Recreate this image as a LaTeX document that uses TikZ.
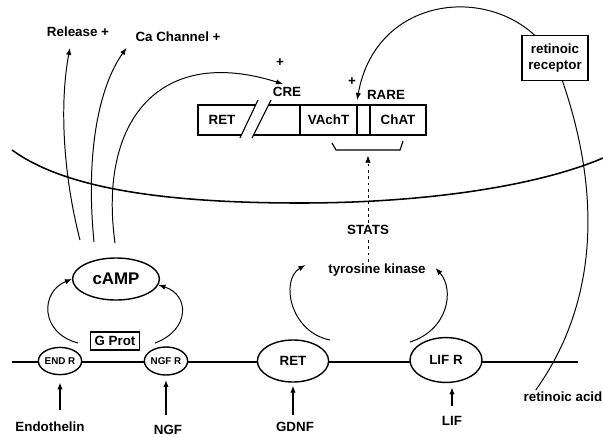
\documentclass[tikz,border=0pt]{standalone}
\usepackage{fontspec}
\setmainfont{Liberation Sans}
\usetikzlibrary{
    arrows.meta,             % For modern arrow tips
    shapes.geometric,        % For the ellipse receptors
    calc                     % For offsets from anchors
}

\begin{document}
\begin{tikzpicture}[
    x=0.025cm, y=-0.025cm, % One unit is one pixel of the layout, y runs downwards
    font=\fontsize{9.5}{12}\selectfont\bfseries,
    line width=0.8pt,
    inner sep=1pt,
    receptor_style/.style={draw, ellipse, fill=white, line width=1pt, inner sep=0pt},
    small_font/.style={font=\fontsize{7}{8}\selectfont\bfseries},
    box_style/.style={draw, rectangle, fill=white, line width=0.8pt},
    arc_style/.style={-{Latex[length=5pt,width=3.8pt]}, line width=0.7pt},
    ligand_style/.style={-{Latex[length=5pt,width=3.8pt]}, line width=1pt},
    dash_style/.style={line width=0.5pt, dash pattern=on 2pt off 2.5pt}
]
    \useasboundingbox (0,0) rectangle (603,436);

    % Nuclear envelope
    \draw[line width=1.1pt] (12,150) .. controls (60,185) and (150,203) .. (300,203)
        .. controls (430,203) and (540,185) .. (603,158);

    % Cell membrane
    \draw[line width=1.4pt] (12,362) -- (578,362);

    % Receptors sitting on the membrane
    \node[receptor_style, small_font, minimum width=1.08cm, minimum height=0.68cm] (endR) at (60,361) {END R};
    \node[receptor_style, small_font, minimum width=1.08cm, minimum height=0.7cm] (ngfR) at (166,361) {NGF R};
    \node[receptor_style, minimum width=1.78cm, minimum height=1.05cm] (retR) at (293,361) {RET};
    \node[receptor_style, minimum width=1.8cm, minimum height=1.12cm] (lifR) at (446,360) {LIF R};

    % Ligands below the membrane
    \node (endothelin) at (50,427) {Endothelin};
    \node (ngf) at (168,430) {NGF};
    \node (gdnf) at (295,427) {GDNF};
    \node (lif) at (452,421) {LIF};

    \draw[ligand_style, shorten <=7pt, shorten >=5pt] (endothelin.north -| endR) -- (endR);
    \draw[ligand_style, shorten <=6pt, shorten >=3pt] (ngf.north -| ngfR) -- (ngfR);
    \draw[ligand_style, shorten <=4pt, shorten >=2pt] (gdnf.north -| retR) -- (retR);
    \draw[ligand_style, shorten <=6pt, shorten >=3pt] (lif.north) -- (lif.north |- lifR.south);

    % Second messengers
    \node[box_style, minimum width=1.22cm, minimum height=0.45cm] (gprot) at (115,341) {G Prot};
    \node[receptor_style, font=\fontsize{12}{14}\selectfont\bfseries, minimum width=2.17cm, minimum height=1.05cm] (camp) at (116,279) {cAMP};
    \node (tk) at (377,270) {tyrosine kinase};
    \node (stats) at (368,230) {STATS};

    % Where the arcs leave the receptors
    \coordinate (endR_out) at (78,343);
    \coordinate (ngfR_out) at (155,343);
    \coordinate (retR_out) at (330,340);
    \coordinate (lifR_out) at (410,342);

    \draw[arc_style] (endR_out) .. controls (40,333) and (40,292) .. (camp.west);
    \draw[arc_style] (ngfR_out) .. controls (190,330) and (190,295) .. (camp.-8);
    \draw[arc_style] (retR_out) .. controls (290,332) and (280,280) .. ($(tk.west)+(-21,-5)$);
    \draw[arc_style] (lifR_out) .. controls (448,330) and (455,290) .. ($(tk.east)+(8,-2)$);

    % Targets of cAMP
    \node (release) at (78,32) {Release +};
    \node (cachannel) at (178,37) {Ca Channel +};
    \node (cre) at (287,92) {CRE};
    \node (crePlus) at (280,63) {+};

    \coordinate (release_out) at (80,240);
    \coordinate (ca_out) at (94,242);
    \coordinate (cre_out) at (115,243);

    \draw[arc_style] (release_out) .. controls (62,170) and (60,100) .. ($(release.south)+(-8,9)$);
    \draw[arc_style] (ca_out) .. controls (85,150) and (100,85) .. ($(cachannel.south west)+(-7,4)$);
    \draw[arc_style, shorten >=3pt] (cre_out) .. controls (98,120) and (160,45) .. (cre.north);

    % Gene row with the break
    \draw (255.6,105) -- (198,105) -- (198,135) -- (241.4,135);
    \draw (240,138) -- (258,100);
    \draw (252,138) -- (271,100);
    \draw (268.5,105) -- (426,105) -- (426,135) -- (253.5,135);
    \draw (300,105) -- (300,135) (357,105) -- (357,135) (370,105) -- (370,135);
    \node (geneRET) at (222,120) {RET};
    \node (geneVAchT) at (328.5,120) {VAchT};
    \node (geneChAT) at (398,120) {ChAT};

    % Bracket under VAchT and ChAT
    \draw (332,143) -- (336,150) -- (400,150) -- (403,141);
    \coordinate (brace_mid) at (368,150);

    \draw[dash_style] (tk.north -| stats) -- (stats.south);
    \draw[dash_style, -{Latex[length=5pt,width=3.8pt]}, shorten >=4pt] (stats.north) -- (brace_mid);

    % Retinoic acid pathway
    \node[box_style, align=center, minimum width=1.65cm, minimum height=1.12cm] (receptor) at (555,58) {retinoic\\receptor};
    \node (rare) at (386,95) {RARE};
    \node (rarePlus) at (352,82) {+};
    \node (ra) at (563,397) {retinoic acid};

    \draw[arc_style] ($(receptor.north west)+(13,0)$) .. controls (480,-15) and (375,0) .. ($(rare.west)+(-8,5)$);
    \draw[line width=0.7pt] ($(receptor.south west)+(41,0)$) .. controls (600,190) and (600,300) .. ($(ra.north west)+(14,0)$);

\end{tikzpicture}
\end{document}
